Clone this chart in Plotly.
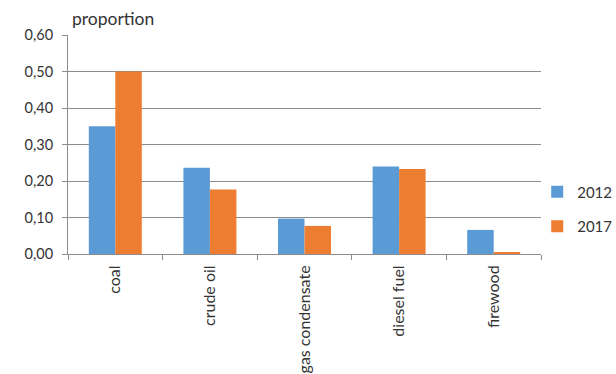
import plotly.graph_objects as go

# Fuel categories and their proportions for each year
categories = ["coal", "crude oil", "gas condensate", "diesel fuel", "firewood"]
values_2012 = [0.35, 0.236, 0.097, 0.240, 0.066]
values_2017 = [0.50, 0.177, 0.077, 0.233, 0.004]
y_ticks = [0.0, 0.1, 0.2, 0.3, 0.4, 0.5, 0.6]

BLUE = "#5B9BD5"
ORANGE = "#ED7D31"
GRID = "#8C8C8C"
TEXT = "#333333"
FONT = "Lato"

fig = go.Figure()
fig.add_trace(go.Bar(name="2012", x=categories, y=values_2012,
                     marker=dict(color=BLUE, line=dict(width=0)),
                     legendgroup="a"))
fig.add_trace(go.Bar(name="2017", x=categories, y=values_2017,
                     marker=dict(color=ORANGE, line=dict(width=0)),
                     legendgroup="b"))

fig.update_layout(
    width=616, height=374,
    margin=dict(l=68, r=75, t=35, b=120, autoexpand=False),
    paper_bgcolor="white", plot_bgcolor="white",
    separators=", ",
    barmode="group", bargap=0.44, bargroupgap=0,
    font=dict(family=FONT, size=14, color=TEXT),
    showlegend=True,
    legend=dict(x=0.992, xanchor="left", y=0.205, yanchor="middle",
                traceorder="grouped", tracegroupgap=12,
                font=dict(size=15, color=TEXT),
                itemwidth=30, bgcolor="rgba(0,0,0,0)"),
    xaxis=dict(
        type="category", tickangle=-90,
        showline=True, linecolor=GRID, linewidth=1,
        ticks="outside", tickson="boundaries", ticklen=5, tickcolor=GRID,
        ticklabelstandoff=4,
        showgrid=False, tickfont=dict(size=16, color=TEXT),
    ),
    yaxis=dict(
        range=[0, 0.6], tickvals=y_ticks, tickformat=".2f",
        showline=True, linecolor=GRID, linewidth=1,
        ticks="outside", ticklen=5, tickcolor=GRID, ticklabelstandoff=6,
        showgrid=True, gridcolor=GRID, gridwidth=1,
        zeroline=False, tickfont=dict(size=14.5, color=TEXT),
    ),
    annotations=[dict(
        text="proportion", xref="paper", yref="paper",
        x=0.0, y=1.0, xanchor="left", yanchor="bottom", yshift=4, xshift=2,
        showarrow=False, font=dict(size=17.5, color=TEXT, family=FONT),
    )],
)

fig.write_html("out.html")
